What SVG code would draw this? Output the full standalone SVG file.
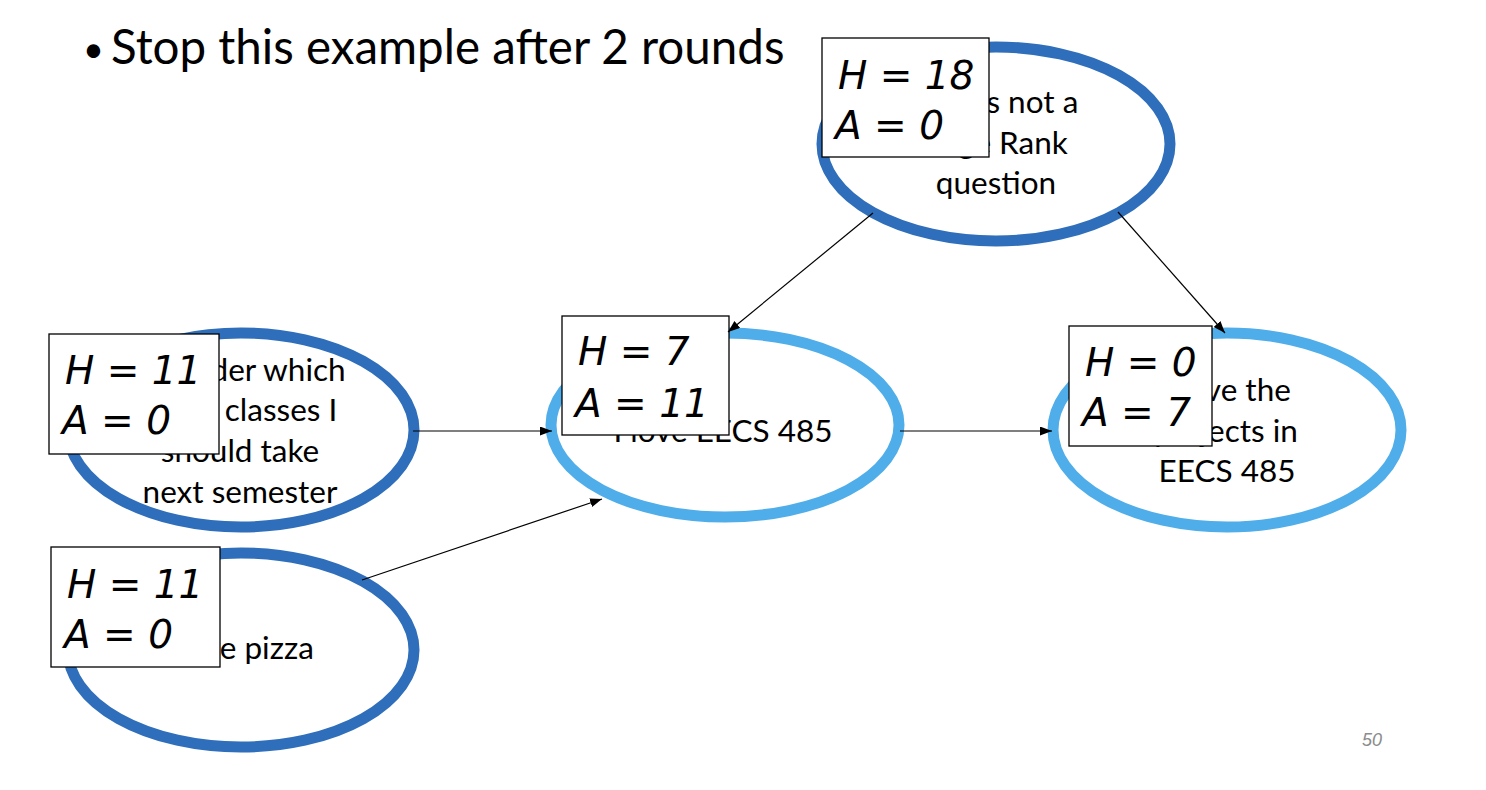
<svg xmlns="http://www.w3.org/2000/svg" width="1486" height="790" viewBox="0 0 1486 790">
<style>
.bg{fill:#ffffff}
.dk{fill:#ffffff;stroke:#2F6EBA;stroke-width:11}
.lt{fill:#ffffff;stroke:#4FADEA;stroke-width:11}
.lbl{font-family:Lato,"Liberation Sans",sans-serif;font-size:31.5px;fill:#000000;text-anchor:middle}
.box{fill:#ffffff;stroke:#000000;stroke-width:1.3}
.ha{font-family:"DejaVu Sans",sans-serif;font-style:italic;font-size:39px;fill:#000000}
.edge{stroke:#000000;stroke-width:1.2;fill:none;marker-end:url(#arr)}
.title{font-family:Lato,"Liberation Sans",sans-serif;font-size:47.5px;fill:#000000}
.pg{font-family:"Liberation Sans",sans-serif;font-style:italic;font-size:18px;fill:#8C8C8C}
</style>
<defs>
<marker id="arr" markerUnits="userSpaceOnUse" markerWidth="14" markerHeight="10" refX="12" refY="4.5" orient="auto">
<path d="M0,0 L12,4.5 L0,9 z" fill="#000000"/>
</marker>
</defs>
<rect class="bg" x="0" y="0" width="1486" height="790"/>
<text class="title" x="83" y="62" style="font-size:36px">•</text>
<text class="title" x="111" y="64">Stop this example after 2 rounds</text>
<text class="pg" x="1362" y="746">50</text>

<g id="node-pagerank">
<ellipse class="dk" cx="996" cy="144" rx="174" ry="97"/>
<text class="lbl" x="996" y="113">This is not a</text>
<text class="lbl" x="996" y="154">Page Rank</text>
<text class="lbl" x="996" y="194">question</text>
<rect class="box" x="822" y="38" width="167" height="119"/>
<text class="ha" x="838" y="89">H = 18</text>
<text class="ha" x="835" y="139">A = 0</text>
</g>

<g id="node-wonder">
<ellipse class="dk" cx="241" cy="430" rx="173" ry="97"/>
<text class="lbl" x="240" y="381">I wonder which</text>
<text class="lbl" x="240" y="421">EECS classes I</text>
<text class="lbl" x="240" y="462">should take</text>
<text class="lbl" x="240" y="503">next semester</text>
<rect class="box" x="49" y="334" width="170" height="120"/>
<text class="ha" x="65" y="384">H = 11</text>
<text class="ha" x="62" y="434">A = 0</text>
</g>

<g id="node-pizza">
<ellipse class="dk" cx="241" cy="650" rx="173" ry="97"/>
<text class="lbl" x="238" y="659">I love pizza</text>
<rect class="box" x="51" y="547" width="169" height="120"/>
<text class="ha" x="67" y="598">H = 11</text>
<text class="ha" x="64" y="648">A = 0</text>
</g>

<g id="node-love485">
<ellipse class="lt" cx="725" cy="425" rx="174" ry="92"/>
<text class="lbl" x="723" y="442">I love EECS 485</text>
<rect class="box" x="562" y="316" width="167" height="119"/>
<text class="ha" x="578" y="365">H = 7</text>
<text class="ha" x="575" y="417">A = 11</text>
</g>

<g id="node-projects">
<ellipse class="lt" cx="1227" cy="430" rx="174" ry="97"/>
<text class="lbl" x="1227" y="401">I love the</text>
<text class="lbl" x="1226" y="442">projects in</text>
<text class="lbl" x="1227" y="482">EECS 485</text>
<rect class="box" x="1069" y="326" width="143" height="120"/>
<text class="ha" x="1085" y="376">H = 0</text>
<text class="ha" x="1082" y="426">A = 7</text>
</g>

<g id="connectors">
<path class="edge" d="M873,213 L728,332"/>
<path class="edge" d="M1118,212 L1225,333"/>
<path class="edge" d="M413,431 L552,431"/>
<path class="edge" d="M362,580 L602,499"/>
<path class="edge" d="M900,431 L1052,431"/>
</g>
</svg>
